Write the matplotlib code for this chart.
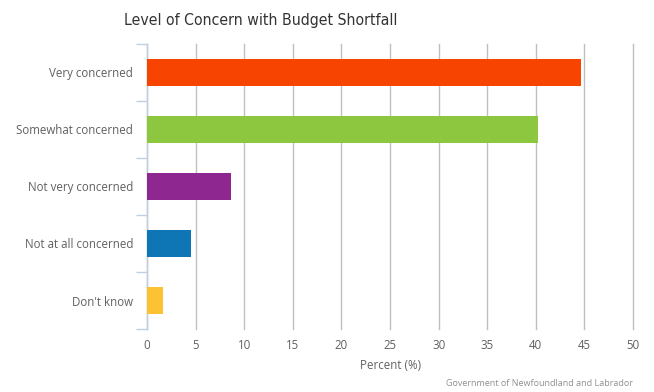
import matplotlib
matplotlib.use("Agg")
import matplotlib.pyplot as plt
from matplotlib.ticker import FixedLocator

categories = ["Very concerned", "Somewhat concerned", "Not very concerned",
              "Not at all concerned", "Don't know"]
values = [44.7, 40.2, 8.6, 4.5, 1.6]
colors = ["#f74400", "#8dc63f", "#8e278f", "#0e76b4", "#fdc134"]
xticks = [0, 5, 10, 15, 20, 25, 30, 35, 40, 45, 50]

plt.rcParams['font.family'] = ['Open Sans', 'DejaVu Sans']

W, H = 654, 392
fig = plt.figure(figsize=(W / 100, H / 100), dpi=100)
ax = fig.add_axes([147 / W, 1 - 329 / H, (633 - 147) / W, (329 - 44) / H])

n = len(categories)
ypos = list(range(n))
ax.barh(ypos, values, height=0.47, color=colors, zorder=3)
ax.set_xlim(0, 50)
ax.set_ylim(n - 0.5, -0.5)

ax.xaxis.set_major_locator(FixedLocator(xticks))
ax.set_xticklabels([str(t) for t in xticks])
ax.grid(axis='x', color='#c0c0c0', linewidth=1, zorder=0)
for gl in ax.get_xgridlines():
    gl.set_clip_on(False)
ax.tick_params(axis='x', length=0, pad=7, labelsize=8.3, labelcolor='#606060')

ax.set_yticks(ypos)
ax.set_yticklabels(categories)
ax.yaxis.set_minor_locator(FixedLocator([i - 0.5 for i in range(n + 1)]))
ax.tick_params(axis='y', which='major', length=0, pad=10, labelsize=8.3, labelcolor='#606060')
ax.tick_params(axis='y', which='minor', length=8, width=1, color='#c0d0e0')

for s in ['top', 'right', 'bottom']:
    ax.spines[s].set_visible(False)
ax.spines['left'].set_color('#c0d0e0')
ax.spines['left'].set_linewidth(1)

ax.set_xlabel("Percent (%)", fontsize=8.3, color='#606060', labelpad=5)

fig.text(261 / W, 1 - 20 / H, "Level of Concern with Budget Shortfall",
         ha='center', va='center', fontsize=11.3, color='#333333',
         family='DejaVu Sans', fontstretch='condensed')
fig.text(633 / W, 1 - 383 / H, "Government of Newfoundland and Labrador",
         ha='right', va='center', fontsize=6.5, color='#909090')

fig.savefig("out.png", dpi=100)
